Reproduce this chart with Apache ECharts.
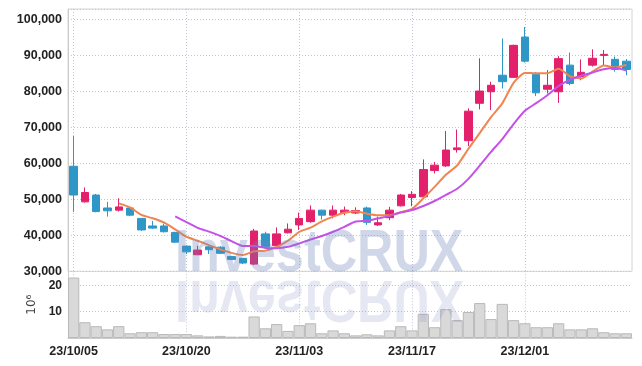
<!DOCTYPE html>
<html><head><meta charset="utf-8">
<script src="https://cdn.jsdelivr.net/npm/echarts@6/dist/echarts.min.js"></script>
<style>html,body{margin:0;padding:0;background:#fff}#c{width:642px;height:366px}</style>
</head><body><div id="c"></div>
<script>
const dates=['23/10/05','23/10/06','23/10/10','23/10/11','23/10/12','23/10/13','23/10/16','23/10/17','23/10/18','23/10/19',
'23/10/20','23/10/23','23/10/24','23/10/25','23/10/26','23/10/27','23/10/30','23/10/31','23/11/01','23/11/02',
'23/11/03','23/11/06','23/11/07','23/11/08','23/11/09','23/11/10','23/11/13','23/11/14','23/11/15','23/11/16',
'23/11/17','23/11/20','23/11/21','23/11/22','23/11/23','23/11/24','23/11/27','23/11/28','23/11/29','23/11/30',
'23/12/01','23/12/04','23/12/05','23/12/06','23/12/07','23/12/08','23/12/11','23/12/12','23/12/13','23/12/14'];
const opens=[59200,49300,51200,47600,47000,47600,44700,42600,42600,40800,
37000,34600,36800,36700,34100,33600,32000,40400,37100,40700,
42900,43800,47000,45600,46300,46200,47600,42900,44900,48200,
50500,50700,58000,59300,63800,66300,76700,79900,84500,83900,
95100,84800,80600,79900,87300,84100,87300,90000,88900,88400];
const closes=[51200,51900,46600,46800,47900,45600,41500,42000,41000,38100,
35400,35900,36000,35000,33300,32300,41200,36800,40400,41700,
44700,47000,45600,47000,47000,46900,43600,43500,47000,51200,
51400,58300,59500,63700,64300,74500,80100,81700,82700,92800,
88400,79600,81700,89100,82200,85300,89200,90300,86100,86100];
const lows=[46500,49100,46400,45200,46600,45300,41200,41800,40800,37900,
34800,34500,34800,34900,33100,32000,31700,36300,36900,40500,
41500,43500,44400,44700,45600,45900,42900,42600,44200,48000,
48100,50500,57200,59000,63000,64800,75000,74800,80800,83700,
88000,78700,79400,76800,81700,83100,86900,87300,85500,84500];
const highs=[67600,53300,51500,49300,50300,47800,44800,44000,43300,41000,
37200,37100,37000,37000,34200,33700,41800,41000,42200,43300,
46300,48300,47100,48300,48000,47800,48000,45200,47900,51500,
52300,61100,60400,69000,69400,75300,89200,82700,94700,93000,
97900,85400,85900,89800,90800,88900,91700,91500,89700,89000];
const ma5=['-','-','-','-',48880,47760,45680,44760,43600,41640,
39600,38480,37280,36080,35120,34500,35560,35720,36800,38480,
40960,42120,43880,45200,46260,46700,46020,45600,45600,46440,
47340,50280,53480,56820,59440,64060,68420,72860,76660,82360,
85140,85040,85040,86320,84200,83580,85500,87220,86620,87400];
const ma10=['-','-','-','-','-','-','-','-','-',45260,
43680,42080,41020,39840,38380,37050,37020,36500,36440,36800,
37730,38840,39800,41000,42370,43830,44070,44740,45400,46350,
47020,48150,49540,51210,52940,55700,59350,63170,66740,70900,
74600,76730,78950,81490,83280,84360,85270,86130,86470,85800];
const volumes=[23.0,6.0,4.5,3.3,4.5,1.8,2.2,2.2,1.5,1.5,
1.5,1.0,0.6,0.8,0.5,0.5,8.2,3.7,5.3,2.7,
4.9,5.6,1.8,2.9,1.8,1.0,1.4,1.0,2.9,4.5,
2.9,9.2,4.1,11.0,6.8,9.9,13.3,7.2,13.0,6.8,
5.6,4.1,4.1,5.6,3.3,3.3,3.7,2.2,1.8,1.8];
const priceTicks=[30000,40000,50000,60000,70000,80000,90000,100000];
const volTicks=[10,20];

const FONT='"Liberation Sans",Arial,sans-serif';
const UP='#e3206c', DOWN='#2f96c8';
const gridLine={type:[1,2],color:'#c4c5d8',width:1};
const candle=dates.map((d,i)=>[opens[i],closes[i],lows[i],highs[i]]);
const WM_FONT='bold 60px "Liberation Sans",Arial,sans-serif';
const chart=echarts.init(document.getElementById('c'),null,{renderer:'canvas'});
chart.setOption({
  animation:false,
  backgroundColor:'#fff',
  grid:[
    {left:68,right:10,top:9,height:262.3,show:true,borderColor:'#d4d4dc',borderWidth:1,backgroundColor:'transparent'},
    {left:68,right:10,top:271.3,bottom:28}
  ],
  xAxis:[
    {type:'category',data:dates,gridIndex:0,boundaryGap:true,axisLine:{show:false},axisTick:{show:false},axisLabel:{show:false},
     splitLine:{show:true,interval:9,alignWithLabel:true,lineStyle:gridLine}},
    {type:'category',data:dates,gridIndex:1,boundaryGap:true,axisLine:{show:true,lineStyle:{color:'#cccccc'}},axisTick:{show:false},
     axisLabel:{interval:9,fontFamily:FONT,fontWeight:'bold',fontSize:12.5,color:'#222',margin:7},
     splitLine:{show:true,interval:9,alignWithLabel:true,lineStyle:gridLine}}
  ],
  yAxis:[
    {type:'value',gridIndex:0,min:30000,max:102900,interval:10000,scale:false,
     axisLine:{show:true,lineStyle:{color:'#cccccc'}},axisTick:{show:false},
     axisLabel:{showMaxLabel:false,margin:6,fontFamily:FONT,fontWeight:'bold',fontSize:12.5,color:'#222',
       formatter:v=>priceTicks.indexOf(v)>=0?v.toLocaleString('en-US'):''},
     splitLine:{show:true,lineStyle:gridLine}},
    {type:'value',gridIndex:1,min:0,max:25.4,interval:10,
     name:'10⁶',nameLocation:'middle',nameGap:30,nameRotate:90,nameTextStyle:{fontFamily:'"DejaVu Sans",sans-serif',fontSize:12,color:'#444'},
     axisLine:{show:true,lineStyle:{color:'#cccccc'}},axisTick:{show:false},
     axisLabel:{showMinLabel:false,showMaxLabel:false,margin:6,fontFamily:FONT,fontWeight:'bold',fontSize:12,color:'#222',
       formatter:v=>volTicks.indexOf(v)>=0?String(v):''},
     splitLine:{show:true,lineStyle:gridLine}}
  ],
  series:[
    {type:'candlestick',xAxisIndex:0,yAxisIndex:0,data:candle,barWidth:8,
     itemStyle:{color:UP,color0:DOWN,borderColor:UP,borderColor0:DOWN,borderWidth:1}},
    {type:'line',xAxisIndex:0,yAxisIndex:0,data:ma5,symbol:'none',smooth:0.2,lineStyle:{color:'#ef8650',width:2}},
    {type:'line',xAxisIndex:0,yAxisIndex:0,data:ma10,symbol:'none',smooth:0.2,lineStyle:{color:'#c651ea',width:2}},
    {type:'bar',xAxisIndex:1,yAxisIndex:1,data:volumes,barCategoryGap:'0%',
     itemStyle:{color:'#d9d9d9',borderColor:'#b9b9b9',borderWidth:1}}
  ],
  graphic:[
    {type:'text',x:175,y:254,scaleX:0.84,z:100,silent:true,
     style:{text:'InvestCRUX',font:WM_FONT,fill:'rgba(110,130,185,0.32)',align:'left',verticalAlign:'middle'}},
    {type:'text',x:175,y:298,scaleX:0.84,scaleY:-1,z:100,silent:true,
     style:{text:'InvestCRUX',font:WM_FONT,fill:'rgba(110,130,185,0.18)',align:'left',verticalAlign:'middle'}}
  ]
});
</script></body></html>
